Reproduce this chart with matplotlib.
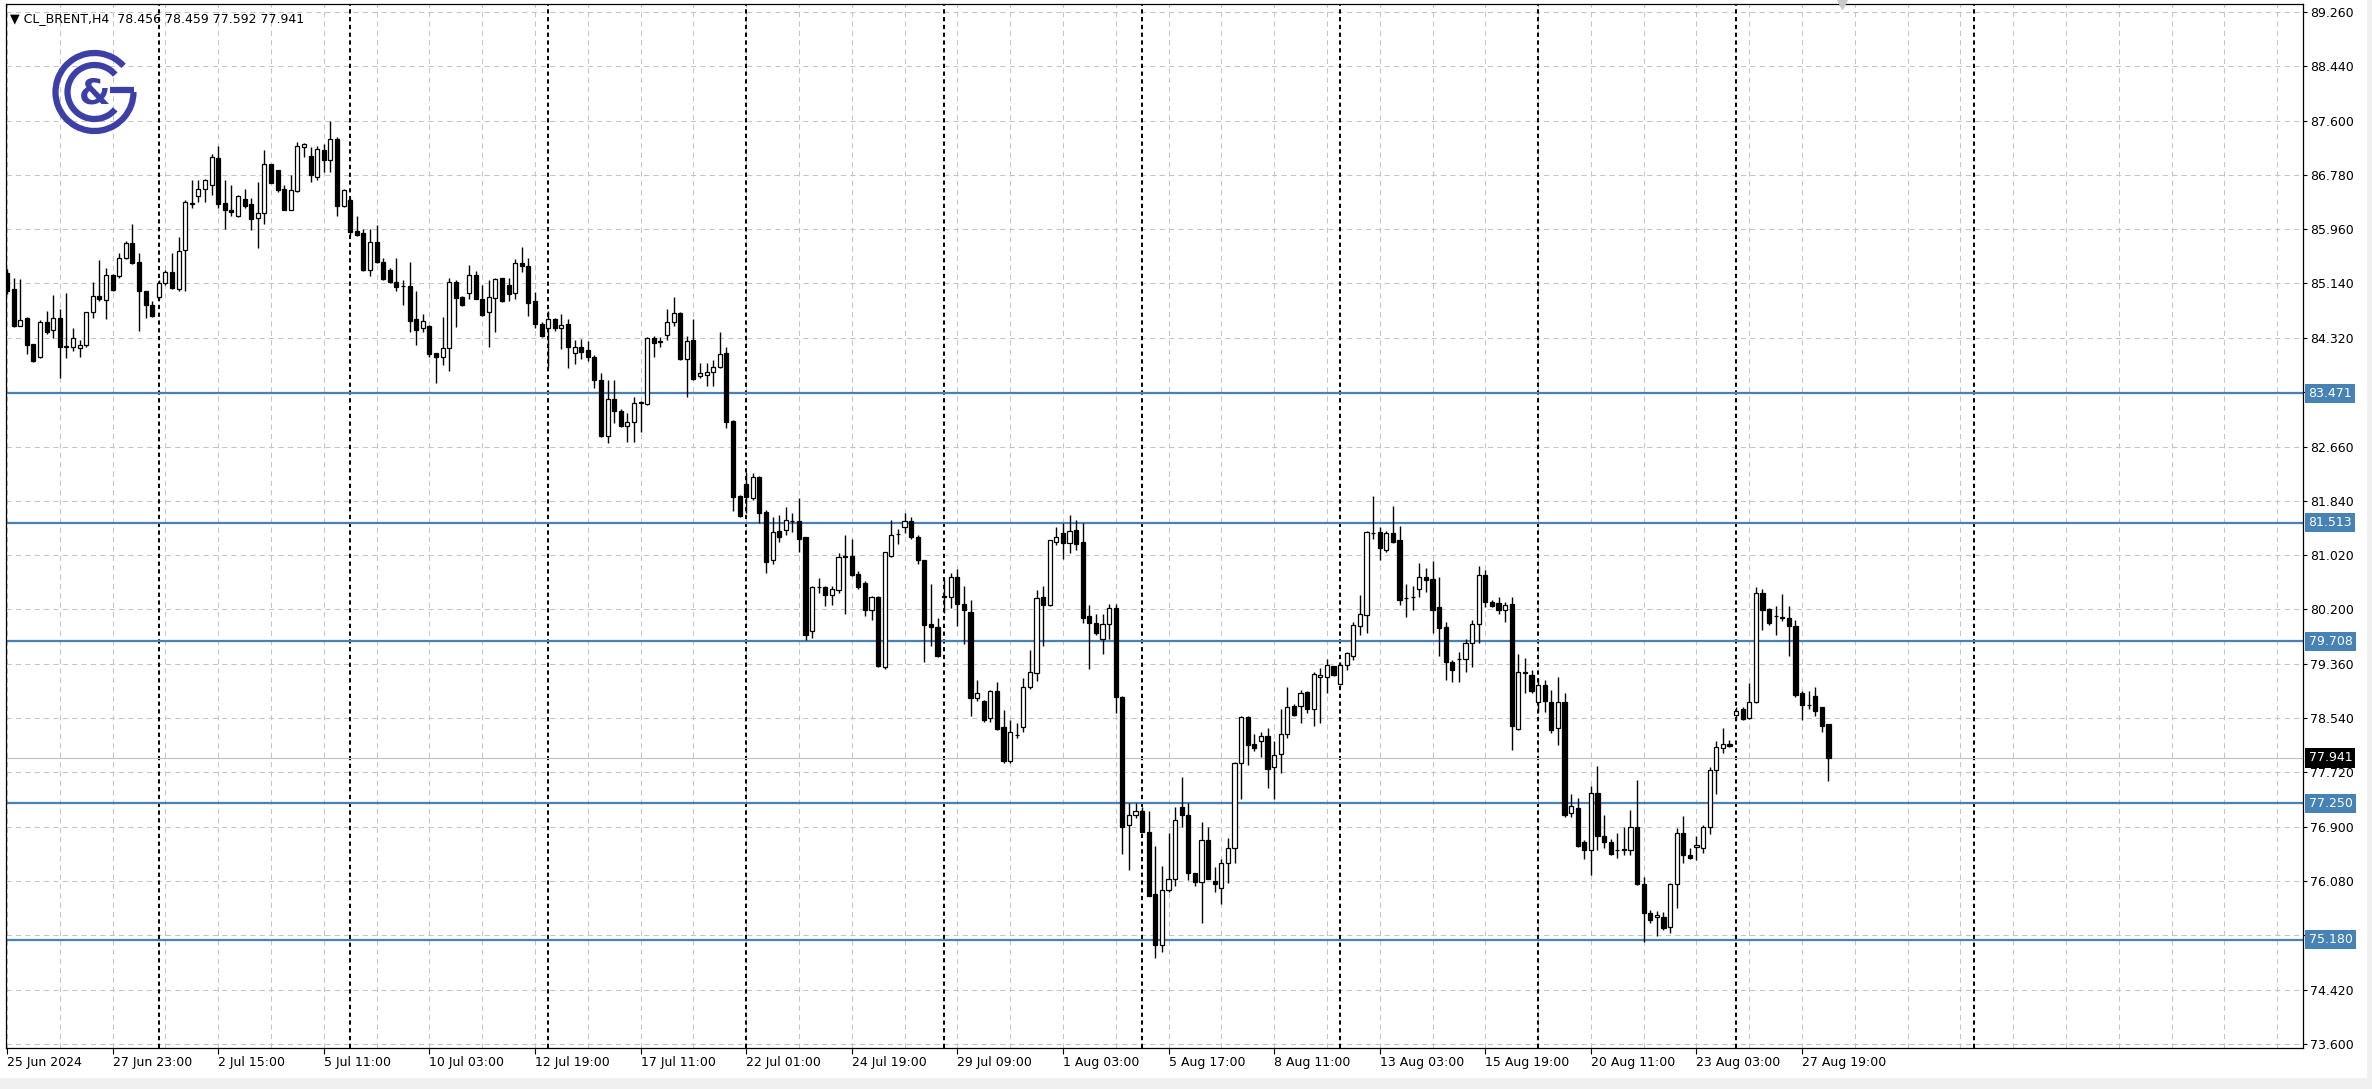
import numpy as np
import matplotlib
matplotlib.use("Agg")
import matplotlib.pyplot as plt
from matplotlib.patches import Arc, Rectangle

plt.rcParams['font.family'] = ['DejaVu Sans']

# CL_BRENT H4 candles
opens = [85.30, 85.05, 84.50, 84.61, 84.22, 84.02, 84.56, 84.43, 84.61, 84.19,
         84.18, 84.16, 84.20, 84.70, 84.95, 84.89, 85.27, 85.26, 85.53, 85.75,
         85.47, 85.02, 84.82, 84.93, 85.14, 85.32, 85.05, 85.65, 86.36, 86.46,
         86.58, 86.64, 87.04, 86.36, 86.26, 86.17, 86.42, 86.35, 86.13, 86.21,
         86.96, 86.86, 86.57, 86.26, 86.55, 87.21, 87.08, 86.76, 87.16, 87.02,
         87.33, 86.32, 86.41, 85.93, 85.90, 85.34, 85.77, 85.47, 85.35, 85.17,
         85.10, 85.10, 84.60, 84.46, 84.50, 84.08, 84.03, 84.16, 85.17, 84.93,
         84.99, 85.27, 84.90, 84.71, 84.92, 85.22, 85.11, 85.00, 85.45, 85.40,
         84.87, 84.53, 84.47, 84.60, 84.47, 84.53, 84.08, 84.17, 84.13, 84.03,
         83.68, 82.83, 83.38, 83.20, 82.98, 83.04, 83.33, 83.31, 84.31, 84.25,
         84.36, 84.55, 84.69, 84.00, 84.28, 83.73, 83.75, 83.80, 83.87, 84.08,
         83.06, 81.92, 82.10, 81.88, 82.20, 81.68, 80.94, 81.39, 81.40, 81.54,
         81.54, 81.29, 79.86, 80.54, 80.54, 80.41, 80.49, 80.99, 81.00, 80.73,
         80.60, 80.18, 80.38, 79.32, 81.00, 81.34, 81.45, 81.53, 81.30, 80.94,
         79.97, 79.92, 80.39, 80.39, 80.68, 80.28, 80.16, 78.85, 78.81, 78.54,
         78.95, 78.41, 77.90, 78.29, 78.41, 79.01, 79.23, 80.38, 80.26, 81.22,
         81.35, 81.20, 81.40, 81.21, 80.10, 79.99, 79.74, 79.97, 80.21, 78.87,
         76.92, 77.08, 77.13, 76.82, 75.88, 75.10, 75.94, 76.11, 77.19, 77.08,
         76.19, 76.06, 76.70, 76.08, 75.96, 76.34, 76.57, 77.87, 78.56, 78.15,
         78.19, 78.27, 77.80, 78.00, 78.30, 78.73, 78.73, 78.94, 78.69, 79.17,
         79.17, 79.33, 79.06, 79.35, 79.49, 79.94, 80.11, 81.35, 81.37, 81.09,
         81.36, 81.24, 80.36, 80.38, 80.50, 80.69, 80.65, 80.23, 79.92, 79.40,
         79.44, 79.44, 79.68, 79.97, 80.72, 80.30, 80.29, 80.18, 80.28, 78.38,
         79.24, 79.20, 78.79, 79.05, 78.79, 78.39, 78.79, 77.11, 77.18, 76.66,
         76.54, 77.41, 76.75, 76.67, 76.55, 76.55, 76.54, 76.90, 76.03, 75.59,
         75.53, 75.52, 75.37, 76.03, 76.80, 76.47, 76.59, 76.58, 76.89, 77.75,
         78.09, 78.15, 78.59, 78.68, 78.54, 78.79, 80.45, 80.20, 80.09, 80.08,
         80.07, 79.94, 78.93, 78.74, 78.88, 78.71, 78.456]
highs = [85.36, 85.22, 85.21, 84.63, 84.22, 84.58, 84.72, 84.97, 84.75, 85.00,
         84.46, 84.28, 84.70, 85.17, 85.50, 85.37, 85.28, 85.60, 85.78, 86.04,
         85.60, 85.03, 84.88, 85.19, 85.35, 85.60, 85.84, 86.40, 86.71, 86.71,
         86.72, 87.11, 87.23, 86.71, 86.63, 86.49, 86.58, 86.43, 86.68, 87.16,
         86.96, 86.86, 86.63, 86.78, 87.28, 87.27, 87.21, 87.23, 87.26, 87.61,
         87.36, 86.57, 86.43, 86.17, 85.97, 85.97, 86.03, 85.53, 85.37, 85.52,
         85.20, 85.47, 85.03, 84.67, 84.51, 84.08, 84.63, 85.22, 85.20, 84.95,
         85.42, 85.33, 85.12, 85.20, 85.22, 85.22, 85.22, 85.51, 85.70, 85.52,
         85.01, 84.56, 84.73, 84.62, 84.67, 84.60, 84.28, 84.30, 84.26, 84.05,
         83.78, 83.68, 83.67, 83.23, 83.17, 83.41, 83.36, 84.33, 84.34, 84.33,
         84.75, 84.94, 84.70, 84.34, 84.60, 83.93, 83.93, 83.98, 84.41, 84.18,
         83.07, 81.93, 82.28, 82.27, 82.22, 81.70, 81.60, 81.63, 81.75, 81.65,
         81.88, 81.30, 80.55, 80.67, 80.55, 80.55, 81.05, 81.32, 81.26, 80.77,
         80.62, 80.40, 80.40, 81.07, 81.55, 81.41, 81.65, 81.60, 81.32, 80.95,
         80.58, 80.06, 80.65, 80.74, 80.80, 80.55, 80.34, 79.12, 78.82, 78.97,
         79.10, 78.67, 78.52, 78.47, 79.15, 79.58, 80.49, 80.55, 81.25, 81.44,
         81.50, 81.63, 81.55, 81.50, 80.26, 80.12, 80.13, 80.28, 80.28, 78.88,
         77.26, 77.26, 77.20, 77.14, 76.61, 76.30, 76.80, 77.20, 77.65, 77.26,
         76.20, 76.97, 76.90, 76.29, 76.40, 76.72, 77.88, 78.58, 78.57, 78.30,
         78.34, 78.39, 78.19, 78.69, 79.02, 78.76, 78.97, 78.96, 79.24, 79.30,
         79.44, 79.34, 79.39, 79.55, 80.01, 80.41, 81.39, 81.92, 81.44, 81.39,
         81.76, 81.46, 80.58, 80.55, 80.90, 80.83, 80.93, 80.68, 80.01, 79.43,
         79.55, 79.74, 80.03, 80.85, 80.79, 80.33, 80.38, 80.30, 80.38, 79.52,
         79.45, 79.28, 79.15, 79.13, 78.97, 79.17, 78.92, 77.40, 77.33, 76.70,
         77.52, 77.82, 77.08, 76.71, 76.80, 76.90, 77.15, 77.61, 76.14, 75.63,
         75.62, 75.61, 76.05, 76.87, 77.06, 76.57, 76.75, 76.92, 77.80, 78.19,
         78.39, 78.22, 78.72, 78.71, 79.08, 80.53, 80.51, 80.21, 80.24, 80.43,
         80.24, 80.03, 78.95, 78.95, 79.02, 78.72, 78.459]
lows = [84.98, 84.48, 84.49, 84.07, 83.95, 84.01, 84.37, 84.31, 83.71, 84.01,
        84.11, 84.02, 84.18, 84.62, 84.88, 84.60, 85.02, 85.23, 85.51, 85.43,
        84.42, 84.62, 84.63, 84.91, 85.11, 85.06, 85.03, 85.03, 86.28, 86.37,
        86.38, 86.49, 86.28, 85.97, 86.16, 86.15, 86.28, 85.95, 85.68, 86.05,
        86.66, 86.53, 86.25, 86.25, 86.53, 87.06, 86.68, 86.71, 86.83, 86.83,
        86.17, 86.30, 85.86, 85.86, 85.33, 85.26, 85.45, 85.20, 85.15, 85.03,
        84.82, 84.40, 84.20, 84.40, 84.02, 83.63, 83.91, 83.81, 84.48, 84.80,
        84.90, 84.90, 84.65, 84.17, 84.40, 84.86, 84.87, 84.91, 85.32, 84.65,
        84.47, 84.33, 83.88, 84.42, 84.15, 83.85, 83.92, 84.00, 83.97, 83.56,
        82.81, 82.72, 83.02, 82.96, 82.74, 82.74, 82.89, 83.30, 84.02, 84.18,
        84.29, 84.49, 83.98, 83.42, 83.67, 83.70, 83.58, 83.58, 83.85, 82.94,
        81.69, 81.59, 81.66, 81.86, 81.50, 80.74, 80.89, 81.22, 81.32, 81.37,
        81.07, 79.73, 79.76, 80.44, 80.25, 80.26, 80.44, 80.12, 80.70, 80.51,
        80.09, 80.04, 79.32, 79.29, 80.99, 81.19, 81.35, 81.27, 80.89, 79.39,
        79.64, 79.47, 80.14, 80.21, 79.94, 79.67, 78.57, 78.80, 78.49, 78.48,
        78.37, 77.86, 77.86, 78.24, 78.33, 78.98, 79.11, 79.64, 80.25, 81.17,
        80.96, 81.05, 81.10, 79.99, 79.29, 79.81, 79.52, 79.74, 78.62, 76.49,
        76.24, 77.03, 76.81, 75.84, 74.90, 74.99, 75.91, 75.99, 76.90, 76.09,
        75.99, 75.43, 76.10, 75.91, 75.73, 76.05, 76.34, 77.31, 77.83, 78.05,
        77.96, 77.49, 77.31, 77.71, 78.24, 78.58, 78.47, 78.62, 78.43, 78.47,
        78.92, 79.18, 79.05, 79.27, 79.43, 79.81, 79.83, 81.27, 80.95, 81.07,
        81.20, 80.26, 80.08, 80.19, 80.38, 80.46, 79.84, 79.49, 79.13, 79.10,
        79.10, 79.25, 79.32, 79.69, 80.23, 80.23, 80.12, 80.01, 78.06, 78.37,
        78.92, 78.92, 78.64, 78.64, 78.32, 78.14, 77.05, 77.05, 76.59, 76.40,
        76.16, 76.54, 76.57, 76.47, 76.42, 76.47, 76.47, 76.01, 75.15, 75.43,
        75.24, 75.33, 75.29, 75.66, 76.35, 76.40, 76.39, 76.50, 76.79, 77.39,
        78.01, 78.11, 78.52, 78.51, 78.53, 78.78, 79.88, 79.96, 79.81, 80.02,
        79.48, 78.87, 78.51, 78.68, 78.57, 78.34, 77.592]
closes = [85.02, 84.50, 84.58, 84.20, 83.96, 84.56, 84.41, 84.61, 84.17, 84.18,
          84.31, 84.21, 84.70, 84.95, 84.91, 85.27, 85.04, 85.53, 85.75, 85.45,
          85.02, 84.82, 84.64, 85.14, 85.32, 85.07, 85.64, 86.37, 86.34, 86.58,
          86.71, 87.06, 86.35, 86.26, 86.22, 86.47, 86.31, 86.12, 86.21, 86.96,
          86.67, 86.56, 86.26, 86.56, 87.23, 87.26, 86.78, 87.18, 87.02, 87.33,
          86.32, 86.56, 85.92, 85.88, 85.34, 85.77, 85.46, 85.21, 85.16, 85.08,
          85.10, 84.57, 84.44, 84.57, 84.07, 84.03, 84.16, 85.17, 84.92, 84.81,
          85.27, 84.90, 84.66, 84.93, 85.21, 84.87, 84.98, 85.45, 85.41, 84.85,
          84.53, 84.35, 84.60, 84.46, 84.51, 84.17, 84.17, 84.10, 84.02, 83.67,
          82.83, 83.38, 83.21, 82.98, 83.04, 83.33, 83.34, 84.32, 84.23, 84.26,
          84.55, 84.69, 84.00, 84.26, 83.69, 83.78, 83.80, 83.88, 84.07, 83.04,
          81.90, 81.61, 81.90, 82.20, 81.66, 80.92, 81.37, 81.30, 81.55, 81.54,
          81.26, 79.81, 80.53, 80.54, 80.41, 80.50, 80.99, 81.00, 80.72, 80.53,
          80.19, 80.38, 79.33, 81.06, 81.32, 81.34, 81.53, 81.30, 80.94, 79.96,
          79.92, 79.48, 80.40, 80.68, 80.28, 80.18, 78.85, 78.92, 78.51, 78.95,
          78.38, 77.89, 78.33, 78.29, 79.02, 79.25, 80.36, 80.26, 81.24, 81.30,
          81.20, 81.38, 81.19, 80.06, 79.99, 79.83, 79.97, 80.21, 78.87, 76.89,
          77.08, 77.13, 76.82, 75.85, 75.10, 75.94, 76.11, 77.00, 77.08, 76.19,
          76.06, 76.70, 76.11, 76.03, 76.35, 76.57, 77.87, 78.56, 78.14, 78.09,
          78.27, 77.77, 77.99, 78.30, 78.72, 78.59, 78.92, 78.69, 79.21, 79.20,
          79.35, 79.20, 79.35, 79.53, 79.96, 80.13, 81.37, 81.35, 81.12, 81.36,
          81.22, 80.34, 80.36, 80.38, 80.69, 80.64, 80.19, 79.91, 79.39, 79.28,
          79.44, 79.69, 79.97, 80.72, 80.30, 80.25, 80.18, 80.26, 78.42, 79.25,
          79.23, 78.95, 79.05, 78.81, 78.36, 78.79, 77.08, 77.21, 76.60, 76.54,
          77.41, 76.75, 76.66, 76.49, 76.55, 76.56, 76.90, 76.03, 75.59, 75.48,
          75.56, 75.36, 76.03, 76.80, 76.47, 76.42, 76.62, 76.90, 77.75, 78.10,
          78.15, 78.12, 78.66, 78.53, 78.79, 80.45, 80.19, 79.99, 80.10, 80.06,
          79.94, 78.90, 78.74, 78.75, 78.66, 78.42, 77.941]

# support / resistance levels drawn on the chart
levels = [83.471, 81.513, 79.708, 77.250, 75.180]

# price scale (grid rows); '' where the label is covered by a level box
price_ticks = [89.26, 88.44, 87.60, 86.78, 85.96, 85.14, 84.32, 83.50, 82.66, 81.84,
               81.02, 80.20, 79.36, 78.54, 77.72, 76.90, 76.08, 75.26, 74.42, 73.60]
hidden_ticks = [83.50, 75.26]

# time scale: label every 16 bars
date_pos = [0, 16, 32, 48, 64, 80, 96, 112, 128, 144, 160, 176, 192, 208, 224, 240, 256, 272]
date_labels = ['25 Jun 2024', '27 Jun 23:00', '2 Jul 15:00', '5 Jul 11:00', '10 Jul 03:00',
               '12 Jul 19:00', '17 Jul 11:00', '22 Jul 01:00', '24 Jul 19:00', '29 Jul 09:00',
               '1 Aug 03:00', '5 Aug 17:00', '8 Aug 11:00', '13 Aug 03:00', '15 Aug 19:00',
               '20 Aug 11:00', '23 Aug 03:00', '27 Aug 19:00']
week_starts = [23, 52, 82, 112, 142, 172, 202, 232, 262, 298]

opens = np.array(opens); highs = np.array(highs)
lows = np.array(lows); closes = np.array(closes)
x = np.arange(len(opens))

W, H = 2372, 1089
fig = plt.figure(figsize=(W / 100, H / 100), dpi=100, facecolor='white')

# plot frame in pixels: left 6, right 2303, top 4, bottom 1048
ax = fig.add_axes([6 / W, 1 - 1048 / H, 2297 / W, 1044 / H])
ax.set_facecolor('white')
ax.set_xlim(-0.15, 347.9)
ax.set_ylim(73.539, 89.381)

# grid
grid_c = '#c4c4c4'
for p in price_ticks:
    ax.axhline(p, color=grid_c, lw=0.75, ls=(0, (5, 4)), zorder=1)
for gx in range(0, 348, 8):
    ax.axvline(gx, color=grid_c, lw=0.75, ls=(0, (5, 4)), zorder=1)
for wx in week_starts:
    ax.axvline(wx, color='black', lw=1.4, ls=(0, (2.2, 1.8)), zorder=1.5)

# levels + current price line
for lv in levels:
    ax.axhline(lv, color='#4682b4', lw=1.6, zorder=2)
ax.axhline(closes[-1], color='#c0c0c0', lw=0.8, zorder=2)

# candles
up = closes >= opens
ax.vlines(x, lows, highs, color='black', lw=1.0, zorder=3)
ax.bar(x, np.abs(closes - opens), bottom=np.minimum(opens, closes), width=0.62,
       color=np.where(up, 'white', 'black'), edgecolor='black', linewidth=0.9, zorder=4)

# chart shift marker
ax.plot([278], [89.381], marker='v', ms=7, color='#c8c8c8', clip_on=False, zorder=5)

# axes
for s in ax.spines.values():
    s.set_color('black')
    s.set_linewidth(0.9)
ax.yaxis.tick_right()
ax.set_yticks(price_ticks)
ax.set_yticklabels(['' if p in hidden_ticks else f'{p:.3f}' for p in price_ticks])
ax.tick_params(axis='y', direction='out', length=3, width=0.8, pad=2, labelsize=9)
ax.set_xticks(date_pos)
ax.set_xticklabels(date_labels, ha='left')
ax.tick_params(axis='x', direction='out', length=4, width=0.8, pad=2, labelsize=9)

# price boxes on the scale
for lv in levels:
    ax.annotate(f'{lv:.3f}', xy=(1, lv), xycoords=('axes fraction', 'data'),
                xytext=(4, 0), textcoords='offset points', ha='left', va='center',
                color='white', fontsize=9,
                bbox=dict(boxstyle='square,pad=0.25', fc='#4682b4', ec='none'))
ax.annotate(f'{closes[-1]:.3f}', xy=(1, closes[-1]), xycoords=('axes fraction', 'data'),
            xytext=(4, 0), textcoords='offset points', ha='left', va='center',
            color='white', fontsize=9,
            bbox=dict(boxstyle='square,pad=0.25', fc='black', ec='none'))

# header
fig.text(10 / W, 1 - 19 / H,
         f'\u25bc CL_BRENT,H4  {opens[-1]:.3f} {highs[-1]:.3f} {lows[-1]:.3f} {closes[-1]:.3f}',
         fontsize=9, va='center', ha='left')

# gray bands at the window edges
fig.patches.append(Rectangle((0, 0), 1, 11 / H, transform=fig.transFigure,
                             fc='#f0f0f0', ec='none', zorder=0))
fig.patches.append(Rectangle((1 - 5 / W, 0), 5 / W, 1, transform=fig.transFigure,
                             fc='#f0f0f0', ec='none', zorder=0))

# logo (pixel box 50..140 x 46..136)
lg = fig.add_axes([50 / W, 1 - 136 / H, 90 / W, 90 / H])
lg.set_xlim(0, 90); lg.set_ylim(0, 90); lg.axis('off')
logo_c = '#3b3fa6'
lg.add_patch(Arc((44.5, 44), 78, 78, theta1=42, theta2=360, color=logo_c, lw=4.5))
lg.plot([60, 84], [46, 46], color=logo_c, lw=4.5, solid_capstyle='butt')
lg.add_patch(Arc((44.5, 44), 54, 54, theta1=40, theta2=320, color=logo_c, lw=4.5))
lg.text(45, 42, '&', fontsize=26, fontweight='bold', color=logo_c, ha='center', va='center')

fig.savefig('out.png', dpi=100, facecolor='white')
